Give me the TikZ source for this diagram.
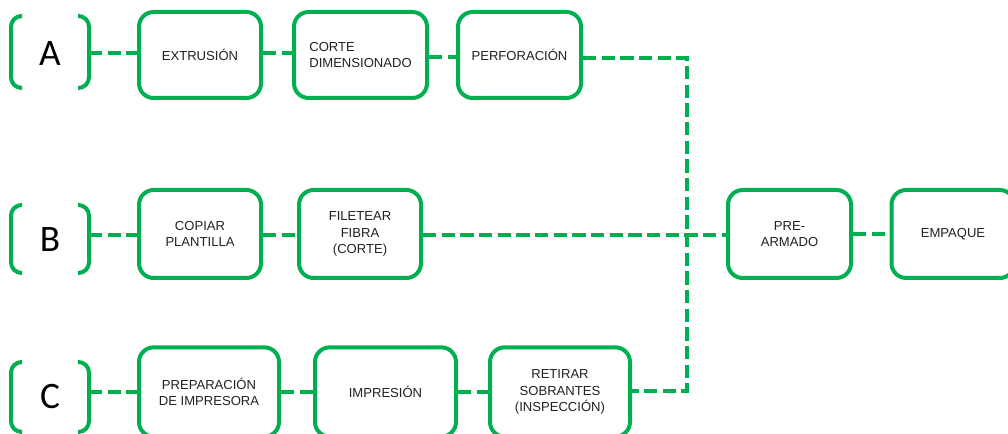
\documentclass[tikz,border=0pt]{standalone}
\usepackage{fontspec}
\setmainfont{Liberation Sans}
\newfontfamily\letterfont{Carlito}
\definecolor{flowgreen}{HTML}{00B050}
\definecolor{labelgray}{HTML}{222222}
\begin{document}
\begin{tikzpicture}[x=0.75pt,y=-0.75pt,
  stepbox/.style={draw=flowgreen, line width=3pt, rounded corners=11pt,
    fill=white, minimum height=64.5pt, inner sep=0pt, align=center,
    font=\fontsize{9.8}{12.5}\selectfont, text=labelgray},
  conn/.style={draw=flowgreen, line width=3pt, dash pattern=on 10pt off 4pt},
  bracket/.style={draw=flowgreen, line width=3pt, rounded corners=8pt},
  letter/.style={font=\letterfont\fontsize{28}{30}\selectfont, text=black}]
\useasboundingbox (0,0) rectangle (1008,434);
\clip (0,0) rectangle (1008,434);

% row labels with brackets
\node[letter] (la) at (50,54) {A};
\node[letter] (lb) at (50,240) {B};
\node[letter] (lc) at (50,397) {C};
\draw[bracket] (22,16) -- (11,16) -- (11,88) -- (22,88);
\draw[bracket] (78,16) -- (89,16) -- (89,88) -- (78,88);
\draw[bracket] (22,205) -- (11,205) -- (11,273) -- (22,273);
\draw[bracket] (78,205) -- (89,205) -- (89,273) -- (78,273);
\draw[bracket] (22,362) -- (11,362) -- (11,432) -- (22,432);
\draw[bracket] (78,362) -- (89,362) -- (89,432) -- (78,432);
\coordinate (ba) at (89,53);
\coordinate (bb) at (89,235);
\coordinate (bc) at (89,392);

% row A
\node[stepbox, minimum width=91.5pt] (ext) at (200,55) {EXTRUSIÓN};
\node[stepbox, minimum width=99.75pt, align=left] (cor) at (360.5,55)
  {CORTE\\DIMENSIONADO};
\node[stepbox, minimum width=92.25pt] (per) at (519.5,55) {PERFORACIÓN};

% row B
\node[stepbox, minimum width=91.5pt, minimum height=66pt] (cop) at (200,234) {COPIAR\\PLANTILLA};
\node[stepbox, minimum width=91.5pt, minimum height=66pt] (fil) at (360,234) {FILETEAR\\FIBRA\\(CORTE)};
\node[stepbox, minimum width=92.25pt, minimum height=66pt] (pre) at (789.5,234) {PRE-\\ARMADO};
\node[stepbox, minimum width=92.25pt, minimum height=66pt] (emp) at (953,234) {EMPAQUE};

% row C
\node[stepbox, minimum width=105pt, minimum height=67pt] (prep) at (209,392) {PREPARACIÓN\\DE IMPRESORA};
\node[stepbox, minimum width=105.75pt, minimum height=67pt] (imp) at (385.5,392) {IMPRESIÓN};
\node[stepbox, minimum width=105pt, minimum height=67pt] (ret) at (560,392) {RETIRAR\\SOBRANTES\\(INSPECCIÓN)};

% junction line collecting rows A and C
\coordinate (jt) at (687,58);
\coordinate (jb) at (687,391);

% connectors
\draw[conn] (ba) -- (ext.west |- ba);
\draw[conn] (ext.east |- ba) -- (cor.west |- ba);
\draw[conn] ([yshift=-1.5pt]cor.east) -- ([yshift=-1.5pt]per.west);
\draw[conn] (per.east |- jt) -- (jt) -- (jb) -- (ret.east |- jb);
\draw[conn] (bb) -- (cop.west |- bb);
\draw[conn] (cop.east |- bb) -- (fil.west |- bb);
\draw[conn] (fil.east |- bb) -- (pre.west |- bb);
\draw[conn] (pre.east) -- (emp.west);
\draw[conn] (bc) -- (prep.west |- bc);
\draw[conn] (prep.east |- bc) -- (imp.west |- bc);
\draw[conn] (imp.east |- bc) -- (ret.west |- bc);
\end{tikzpicture}
\end{document}
